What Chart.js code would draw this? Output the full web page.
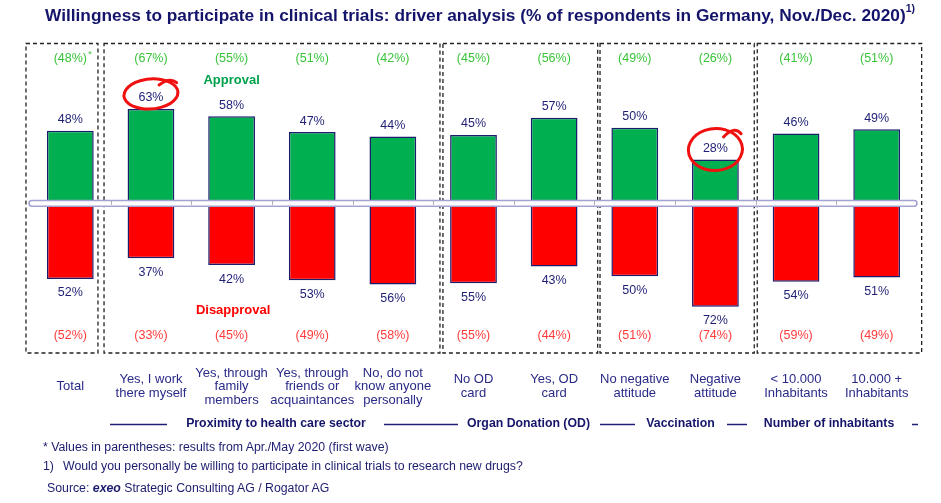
<!DOCTYPE html>
<html>
<head>
<meta charset="utf-8">
<script src="https://cdn.jsdelivr.net/npm/chart.js@4/dist/chart.umd.min.js"></script>
<style>
  body { margin: 0; background: #fff; font-family: "Liberation Sans", Arial, sans-serif; color: #1c1c6e; }
  #wrap { position: relative; width: 941px; height: 503px; }
  #title { position: absolute; left: 45px; top: 5px; font-weight: bold; font-size: 17.3px; white-space: nowrap; color: #14146b; }
  #title sup { font-size: 10.5px; vertical-align: top; position: relative; top: -3px; }
  .note { position: absolute; font-size: 12.3px; white-space: nowrap; color: #1c1c6e; }
</style>
</head>
<body>
<div id="wrap">
  <canvas id="driverChart"></canvas>
  <div id="title">Willingness to participate in clinical trials: driver analysis (% of respondents in Germany, Nov./Dec. 2020)<sup>1)</sup></div>
  <div class="note" style="left:43px;top:440px">* Values in parentheses: results from Apr./May 2020 (first wave)</div>
  <div class="note" style="left:43px;top:459px">1)</div>
  <div class="note" style="left:63px;top:459px">Would you personally be willing to participate in clinical trials to research new drugs?</div>
  <div class="note" style="left:47px;top:481px">Source: <b><i>exeo</i></b> Strategic Consulting AG / Rogator AG</div>
</div>
<script>
const categories = [
  "Total",
  ["Yes, I work", "there myself"],
  ["Yes, through", "family", "members"],
  ["Yes, through", "friends or", "acquaintances"],
  ["No, do not", "know anyone", "personally"],
  ["No OD", "card"],
  ["Yes, OD", "card"],
  ["No negative", "attitude"],
  ["Negative", "attitude"],
  ["< 10.000", "Inhabitants"],
  ["10.000 +", "Inhabitants"],
];
const approval = [48, 63, 58, 47, 44, 45, 57, 50, 28, 46, 49];
const disapproval = [52, 37, 42, 53, 56, 55, 43, 50, 72, 54, 51];
// first wave (Apr./May 2020), shown in parentheses
const approvalWave1 = [48, 67, 55, 51, 42, 45, 56, 49, 26, 41, 51];
const disapprovalWave1 = [52, 33, 45, 49, 58, 55, 44, 51, 74, 59, 49];
const groupNames = ["Proximity to health care sector", "Organ Donation (OD)", "Vaccination", "Number of inhabitants"];
const circled = [1, 8];

// layout helpers (pixels / category units), not data
const boxEdges = [[-0.55, 0.343], [0.418, 4.584], [4.621, 6.54], [6.569, 8.482], [8.519, 10.558]];
const groupTextX = [276, 528.5, 680.5, 829];
const groupLines = [[110, 167], [384, 458], [600, 635], [727, 747], [912, 918]];
const circleShapes = [{ rx: 27, ry: 15, dy: -4, rot: -0.08 }, { rx: 27, ry: 21, dy: 1, rot: -0.05 }];

const NAVY = "#1f1f75";
const FONT = '"Liberation Sans", Arial, sans-serif';

const decor = {
  id: "decor",
  beforeDatasetsDraw(chart) {
    const { ctx, scales: { x } } = chart;
    ctx.save();
    ctx.setLineDash([4, 3]);
    ctx.lineWidth = 1.3;
    ctx.strokeStyle = "#222";
    boxEdges.forEach(([a, b]) => {
      const x1 = x.getPixelForValue(a), x2 = x.getPixelForValue(b);
      ctx.strokeRect(x1, 43.5, x2 - x1, 309.5);
    });
    ctx.restore();
  },
  afterDatasetsDraw(chart) {
    const { ctx, chartArea, scales: { x, yUp, yDown } } = chart;
    const y0 = yUp.getPixelForValue(0), y1 = yDown.getPixelForValue(0);
    ctx.save();

    // zero band
    ctx.beginPath();
    ctx.roundRect(chartArea.left - 1, y0 + 0.5, chartArea.right - chartArea.left + 1, y1 - y0 - 1, 3);
    ctx.fillStyle = "#fff";
    ctx.fill();
    ctx.strokeStyle = "#a3a3d3";
    ctx.lineWidth = 1.6;
    ctx.stroke();
    ctx.setLineDash([1, 1]);
    ctx.strokeStyle = "#666";
    ctx.lineWidth = 1;
    for (let k = 1; k < categories.length; k++) {
      const px = Math.round(x.getPixelForValue(k - 0.5)) + 0.5;
      ctx.beginPath();
      ctx.moveTo(px, y0 + 1.5);
      ctx.lineTo(px, y1 - 1.5);
      ctx.stroke();
    }
    ctx.setLineDash([]);

    // value labels
    ctx.textAlign = "center";
    ctx.textBaseline = "middle";
    ctx.font = `12.5px ${FONT}`;
    ctx.fillStyle = NAVY;
    chart.getDatasetMeta(0).data.forEach((el, i) => ctx.fillText(approval[i] + "%", el.x, el.y - 11));
    chart.getDatasetMeta(1).data.forEach((el, i) => ctx.fillText(disapproval[i] + "%", el.x, el.y + 14));

    // first wave values
    categories.forEach((c, i) => {
      const px = x.getPixelForValue(i);
      ctx.font = `12.5px ${FONT}`;
      ctx.fillStyle = "#3ac43a";
      ctx.fillText(`(${approvalWave1[i]}%)`, px, 58.5);
      if (i === 0) {
        const w = ctx.measureText(`(${approvalWave1[i]}%)`).width;
        ctx.font = `9px ${FONT}`;
        ctx.fillText("*", px + w / 2 + 3, 55);
        ctx.font = `12.5px ${FONT}`;
      }
      ctx.fillStyle = "#ff3b3b";
      ctx.fillText(`(${disapprovalWave1[i]}%)`, px, 336);
    });

    // series names
    ctx.font = `bold 13px ${FONT}`;
    ctx.fillStyle = "#00a14b";
    ctx.fillText("Approval", x.getPixelForValue(2), 80.5);
    ctx.fillStyle = "#ff0000";
    ctx.fillText("Disapproval", x.getPixelForValue(2) + 1.5, 310);

    // hand-drawn highlight circles
    ctx.strokeStyle = "#f01010";
    ctx.lineWidth = 3;
    ctx.lineCap = "round";
    const green = chart.getDatasetMeta(0).data;
    circled.forEach((idx, n) => {
      const s = circleShapes[n];
      const cx = green[idx].x, cy = green[idx].y - 11 + s.dy;
      ctx.beginPath();
      ctx.ellipse(cx, cy, s.rx, s.ry, s.rot, -1.15, -1.15 + Math.PI * 2 + 0.45);
      ctx.stroke();
      ctx.beginPath();
      ctx.moveTo(cx + s.rx * 0.3, cy - s.ry * 0.6);
      ctx.quadraticCurveTo(cx + s.rx * 0.7, cy - s.ry * 1.15, cx + s.rx * 0.95, cy - s.ry * 0.75);
      ctx.stroke();
    });

    // group row
    ctx.lineCap = "butt";
    ctx.strokeStyle = NAVY;
    ctx.lineWidth = 1.5;
    groupLines.forEach(([a, b]) => {
      ctx.beginPath();
      ctx.moveTo(a, 424.5);
      ctx.lineTo(b, 424.5);
      ctx.stroke();
    });
    ctx.font = `bold 12.3px ${FONT}`;
    ctx.fillStyle = "#15156a";
    groupNames.forEach((g, i) => ctx.fillText(g, groupTextX[i], 424));
    ctx.restore();
  },
};

new Chart(document.getElementById("driverChart"), {
  type: "bar",
  data: {
    labels: categories,
    datasets: [
      {
        label: "Approval",
        data: approval,
        yAxisID: "yUp",
        backgroundColor: "#00b050",
        borderColor: "#1c1c6c",
        borderWidth: 1.5,
        grouped: false,
        barPercentage: 0.58,
        categoryPercentage: 1,
      },
      {
        label: "Disapproval",
        data: disapproval,
        yAxisID: "yDown",
        backgroundColor: "#ff0000",
        borderColor: "#1c1c6c",
        borderWidth: 1.5,
        grouped: false,
        barPercentage: 0.58,
        categoryPercentage: 1,
      },
    ],
  },
  options: {
    responsive: true,
    maintainAspectRatio: false,
    animation: false,
    layout: { padding: { left: 30, right: 24, top: 50, bottom: 89 } },
    plugins: {
      legend: { display: false },
      tooltip: { enabled: false },
    },
    scales: {
      x: {
        grid: { display: false, drawTicks: false },
        border: { display: false },
        afterFit(scale) {
          scale.height = 64;
        },
        ticks: {
          color: "#2a2a88",
          padding: 23,
          crossAlign: "center",
          maxRotation: 0,
          autoSkip: false,
          font: { family: FONT, size: 13, lineHeight: 1.06 },
        },
      },
      yUp: {
        type: "linear",
        position: "right",
        stack: "split",
        stackWeight: 153.35,
        min: -2.32,
        max: 103.8,
        display: false,
      },
      yDown: {
        type: "linear",
        position: "right",
        stack: "split",
        stackWeight: 146.65,
        min: -2.41,
        max: 103.1,
        reverse: true,
        display: false,
      },
    },
  },
  plugins: [decor],
});
</script>
</body>
</html>
